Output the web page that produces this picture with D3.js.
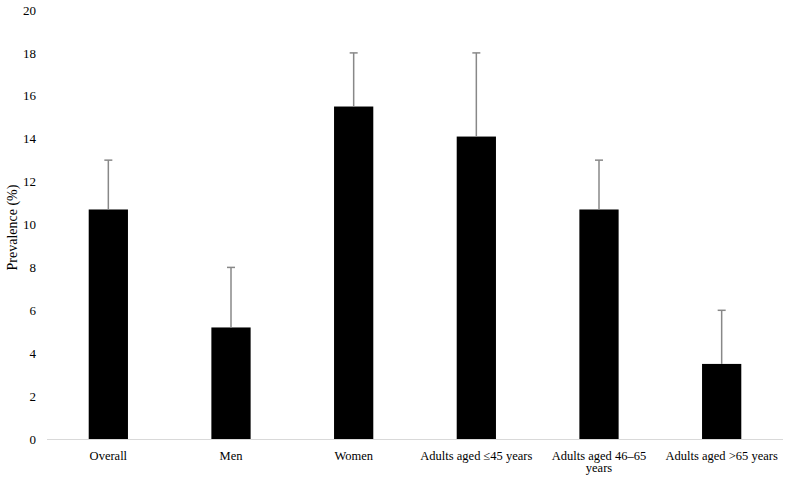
<!DOCTYPE html>
<html><head><meta charset="utf-8">
<script src="https://cdn.jsdelivr.net/npm/d3@7"></script>
<style>
body{margin:0;background:#fff}
svg text{font-family:"Liberation Serif","Times New Roman",Times,serif !important;fill:#000}
</style></head>
<body><svg id="c" width="788" height="479"></svg>
<script>
const categories = ["Overall","Men","Women","Adults aged \u226445 years","Adults aged 46\u201365 years","Adults aged >65 years"];
const prevalence = [10.7, 5.2, 15.5, 14.1, 10.7, 3.5];
const upperError = [13, 8, 18, 18, 13, 6];
const yTicks = [0,2,4,6,8,10,12,14,16,18,20];

const svg = d3.select("#c");
const m = {l:47, r:5, t:10, b:40};
const W = 788, H = 479;
const x = d3.scaleBand().domain(categories).range([m.l, W - m.r]).paddingInner(0.68).paddingOuter(0.34);
const y = d3.scaleLinear().domain([0,20]).range([H - m.b, m.t]);

const ya = svg.append("g").attr("transform", `translate(${m.l},0)`)
  .call(d3.axisLeft(y).tickValues(yTicks).tickSize(0).tickPadding(11));
ya.attr("font-family", null);
ya.select(".domain").remove();
ya.selectAll("text").attr("font-size","13px").attr("fill","#000");

svg.append("g").selectAll("rect").data(categories).join("rect")
  .attr("x", d => x(d)).attr("width", x.bandwidth())
  .attr("y", (d,i) => y(prevalence[i])).attr("height", (d,i) => y(0) - y(prevalence[i]))
  .attr("fill", "#000");

const eg = svg.append("g").attr("stroke","#888").attr("stroke-width",1.5);
categories.forEach((c,i) => {
  const cx = x(c) + x.bandwidth()/2;
  eg.append("line").attr("x1",cx).attr("x2",cx).attr("y1",y(prevalence[i])).attr("y2",y(upperError[i]));
  eg.append("line").attr("x1",cx-4).attr("x2",cx+4).attr("y1",y(upperError[i])).attr("y2",y(upperError[i]));
});

const xa = svg.append("g").attr("transform", `translate(0,${y(0)})`)
  .call(d3.axisBottom(x).tickSize(0).tickPadding(12));
xa.attr("font-family", null).attr("font-size", null);
xa.select(".domain").attr("stroke","#d9d9d9").attr("stroke-width",1)
  .attr("d", `M${m.l},0.5H${W - m.r}`);
xa.selectAll("text").attr("font-size","12.5px").attr("fill","#000")
  .each(function(){
    const t = d3.select(this);
    const words = t.text().split(" ");
    const maxW = x.step() - 4;
    t.text(null);
    let line = [];
    let ts = t.append("tspan").attr("x",0).attr("dy","0.71em");
    words.forEach(w => {
      line.push(w);
      ts.text(line.join(" "));
      if (ts.node().getComputedTextLength() > maxW && line.length > 1) {
        line.pop(); ts.text(line.join(" "));
        line = [w];
        ts = t.append("tspan").attr("x",0).attr("dy","1.0em").text(w);
      }
    });
  });

svg.append("text").attr("transform", `translate(17,${(y(0)+y(20))/2 + 3}) rotate(-90)`)
  .attr("text-anchor","middle").attr("font-size","14px").text("Prevalence (%)");
</script></body></html>
